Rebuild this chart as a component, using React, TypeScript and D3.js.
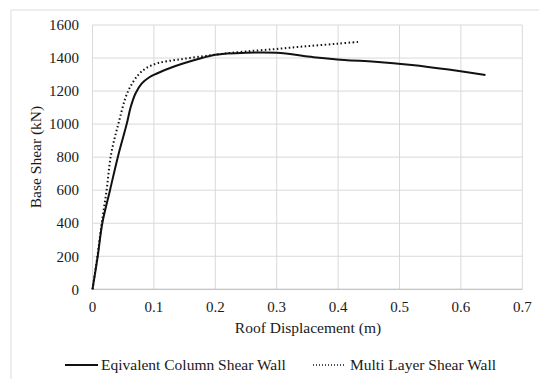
import React from "react";
import * as d3 from "d3";

const eqDisp = [0, 0.0085, 0.016, 0.0285, 0.042, 0.0557, 0.062, 0.07, 0.08, 0.092, 0.104, 0.134, 0.178, 0.2, 0.25, 0.3, 0.36, 0.41, 0.46, 0.52, 0.58, 0.64];
const eqShear = [0, 200, 400, 600, 812, 1000, 1100, 1185, 1245, 1282, 1305, 1350, 1400, 1420, 1432, 1432, 1405, 1388, 1378, 1358, 1330, 1297];
const mlDisp = [0, 0.008, 0.015, 0.023, 0.030, 0.042, 0.058, 0.075, 0.088, 0.107, 0.139, 0.178, 0.21, 0.25, 0.3, 0.35, 0.4, 0.436];
const mlShear = [0, 200, 400, 600, 812, 1000, 1200, 1300, 1340, 1370, 1390, 1410, 1425, 1440, 1455, 1472, 1487, 1499];
const xTicks = [0, 0.1, 0.2, 0.3, 0.4, 0.5, 0.6, 0.7];
const yTicks = [0, 200, 400, 600, 800, 1000, 1200, 1400, 1600];
const seriesNames = ["Eqivalent Column Shear Wall", "Multi Layer Shear Wall"];

export default function App() {
  const W = 539, H = 379;
  const x = d3.scaleLinear().domain([0, 0.7]).range([92.5, 522.3]);
  const y = d3.scaleLinear().domain([0, 1600]).range([289.3, 25]);
  const line = d3.line<[number, number]>().x(d => x(d[0])).y(d => y(d[1])).curve(d3.curveCatmullRom.alpha(0.5));
  const eq: [number, number][] = eqDisp.map((d, i) => [d, eqShear[i]]);
  const ml: [number, number][] = mlDisp.map((d, i) => [d, mlShear[i]]);
  const font = "\"Liberation Serif\"";
  const grid = "#d9d9d9";
  const txt = { fontFamily: font, fontSize: 15, fill: "#1a1a1a" } as React.CSSProperties;
  return (
    <svg width={W} height={H} style={{ position: "absolute", left: 0, top: 0, display: "block", fontFamily: font }}>
      <rect x={0} y={0} width={W} height={H} fill="#fff" />
      <rect x={11} y={10} width={W + 20} height={H + 20} fill="none" stroke="#e3e3e3" strokeWidth={1.2} />
      {yTicks.map(t => (
        <line key={"gy" + t} x1={x(0)} x2={x(0.7)} y1={y(t)} y2={y(t)} stroke={grid} strokeWidth={1} />
      ))}
      {xTicks.map(t => (
        <line key={"gx" + t} x1={x(t)} x2={x(t)} y1={y(0)} y2={y(1600)} stroke={grid} strokeWidth={1} />
      ))}
      <line x1={x(0)} x2={x(0.7)} y1={y(0)} y2={y(0)} stroke="#bfbfbf" strokeWidth={1} />
      {yTicks.map(t => (
        <text key={"ty" + t} x={79} y={y(t)} dy="0.35em" textAnchor="end" style={txt}>{t}</text>
      ))}
      {xTicks.map(t => (
        <text key={"tx" + t} x={x(t)} y={312} textAnchor="middle" style={txt}>{t === 0 ? "0" : d3.format(".1f")(t)}</text>
      ))}
      <text x={308} y={333} textAnchor="middle" style={{ ...txt, fontSize: 15.5 }}>Roof Displacement (m)</text>
      <text transform={`translate(41,157) rotate(-90)`} textAnchor="middle" style={{ ...txt, fontSize: 15.5 }}>Base Shear (kN)</text>
      <path d={line(ml) || ""} fill="none" stroke="#111" strokeWidth={2} strokeDasharray="1.5 2.5" />
      <path d={line(eq) || ""} fill="none" stroke="#111" strokeWidth={2} />
      <line x1={65} x2={98} y1={365} y2={365} stroke="#111" strokeWidth={2} />
      <text x={101} y={370} style={{ ...txt, fontSize: 15.5 }}>{seriesNames[0]}</text>
      <line x1={313} x2={345} y1={365} y2={365} stroke="#111" strokeWidth={1.5} strokeDasharray="1 2" />
      <text x={350} y={370} style={{ ...txt, fontSize: 15.5 }}>{seriesNames[1]}</text>
    </svg>
  );
}
